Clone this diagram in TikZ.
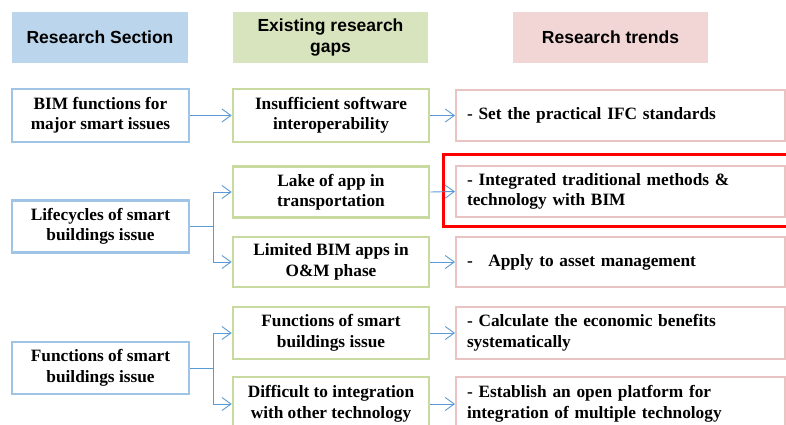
\documentclass[tikz,border=0pt]{standalone}
\usepackage{fontspec}
\setmainfont{Liberation Serif}
\newfontfamily\hdfont{Liberation Sans}
\usetikzlibrary{arrows.meta}
\definecolor{hblue}{RGB}{187,213,236}
\definecolor{hgreen}{RGB}{216,228,189}
\definecolor{hpink}{RGB}{242,214,214}
\definecolor{bblue}{RGB}{160,196,229}
\definecolor{bgreen}{RGB}{200,218,160}
\definecolor{bpink}{RGB}{234,196,195}
\definecolor{arr}{RGB}{91,155,213}
\definecolor{redbox}{RGB}{255,0,0}
\tikzset{
  hdbox/.style={minimum height=51pt, inner sep=0pt, align=center,
    font=\hdfont\fontsize{17.5}{20.5}\selectfont\bfseries},
  lbox/.style={draw=bblue, line width=2.6pt, fill=white, minimum width=177pt,
    minimum height=52pt, inner sep=0pt, align=center,
    font=\fontsize{17.3}{20.5}\selectfont\bfseries},
  mbox/.style={draw=bgreen, line width=2.6pt, fill=white, minimum width=196pt,
    minimum height=51pt, inner sep=0pt, align=center,
    font=\fontsize{17.3}{20.5}\selectfont\bfseries},
  rbox/.style={draw=bpink, line width=2pt, fill=white, text width=307pt,
    inner xsep=11pt, inner ysep=0pt, minimum height=51pt, align=left,
    font=\fontsize{17.3}{20.5}\selectfont\bfseries},
  conn/.style={draw=arr, line width=0.9pt,
    -{Straight Barb[length=9pt,width=13pt,line width=0.9pt]}},
  plain/.style={draw=arr, line width=0.9pt}
}
\begin{document}
\begin{tikzpicture}[x=1pt,y=-1pt]
\useasboundingbox (0,0) rectangle (786,425);
\clip (0,0) rectangle (786,425);
\fill[white] (0,0) rectangle (786,425);
% headers
\node[hdbox, fill=hblue, minimum width=176pt] (h1) at (100,37.5) {Research Section};
\node[hdbox, fill=hgreen, minimum width=195pt] (h2) at (330.5,37.5) {Existing research\\gaps};
\node[hdbox, fill=hpink, minimum width=195pt] (h3) at (610.5,37.5) {Research trends};
% left column
\node[lbox, minimum height=53pt] (l1) at (100.5,115.5) {BIM functions for\\major smart issues};
\node[lbox] (l2) at (100.5,226.5) {Lifecycles of smart\\buildings issue};
\node[lbox] (l3) at (100.5,368) {Functions of smart\\buildings issue};
% middle column
\node[mbox, minimum height=53pt] (m1) at (331,115.5) {Insufficient software\\interoperability};
\node[mbox] (m2) at (331,192) {Lake of app in\\transportation};
\node[mbox, minimum height=50pt] (m3) at (331,262) {Limited BIM apps in\\O\&M phase};
\node[mbox, minimum height=52pt] (m4) at (331,333) {Functions of smart\\buildings issue};
\node[mbox, minimum height=54pt] (m5) at (331,404) {Difficult to integration\\with other technology};
% right column
\node[rbox] (r1) at (620.5,115.5) {- Set the practical IFC standards};
\node[rbox] (r2) at (620.5,191.5) {- Integrated traditional methods \&\\technology with BIM};
\node[rbox, minimum height=50pt] (r3) at (620.5,262) {-\hspace{0.9em}Apply to asset management};
\node[rbox, minimum height=52pt] (r4) at (620.5,333) {- Calculate the economic benefits\\systematically};
\node[rbox, minimum height=54pt] (r5) at (620.5,404) {- Establish an open platform for\\integration of multiple technology};
% red highlight
\draw[redbox, line width=3pt] (800,154) -- (443,154) -- (443,226) -- (800,226);
% connectors
\coordinate (b2) at (213,226.5);
\coordinate (b3) at (213,368);
\draw[conn] (l1.east) -- (m1.west);
\draw[plain] (l2.east) -- (b2);
\draw[conn] (b2) |- (m2.west);
\draw[conn] (b2) |- (m3.west);
\draw[plain] (l3.east) -- (b3);
\draw[conn] (b3) |- (m4.west);
\draw[conn] (b3) |- (m5.west);
\draw[conn] (m1.east) -- (r1.west);
\draw[conn] (m2.east) -- (r2.west);
\draw[conn] (m3.east) -- (r3.west);
\draw[conn] (m4.east) -- (r4.west);
\draw[conn] (m5.east) -- (r5.west);
\end{tikzpicture}
\end{document}
